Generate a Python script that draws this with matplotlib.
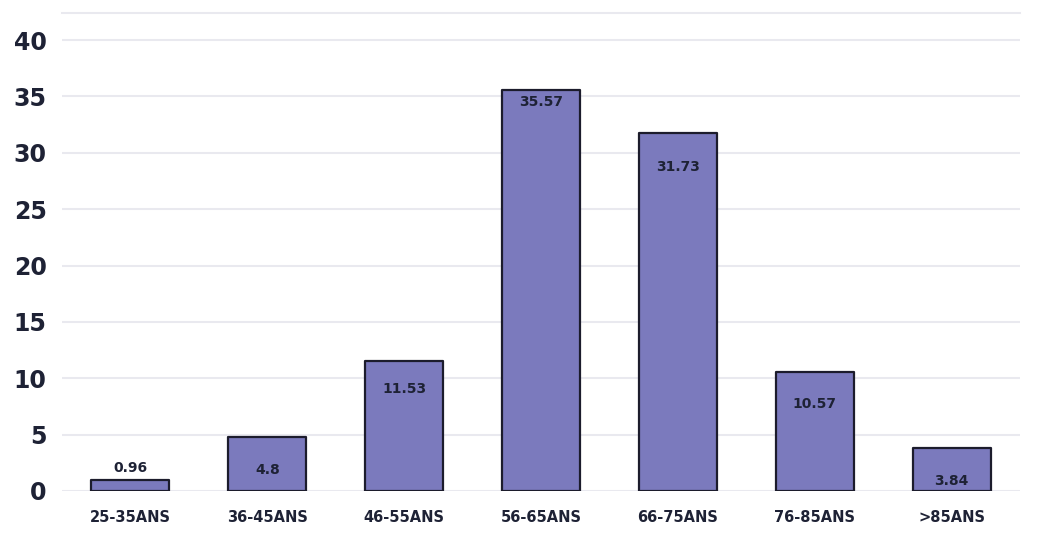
import matplotlib
matplotlib.use("Agg")
import matplotlib.pyplot as plt

plt.rcParams["font.family"] = ["DejaVu Sans"]

categories = ["25-35ANS", "36-45ANS", "46-55ANS", "56-65ANS", "66-75ANS", "76-85ANS", ">85ANS"]
values = [0.96, 4.8, 11.53, 35.57, 31.73, 10.57, 3.84]
y_ticks = [0, 5, 10, 15, 20, 25, 30, 35, 40]

# label vertical offsets in points (negative = inside bar below top)
label_offsets = [4, -29, -25, -14, -29, -28, -29]

bar_color = "#7b7abd"
edge_color = "#1c1c2c"
text_color = "#1e2235"
grid_color = "#e9e9ef"

fig = plt.figure(figsize=(10.37, 5.42), dpi=100)
ax = fig.add_axes([62/1037, 51/542, (1020-62)/1037, (491-13)/542])

x = list(range(len(categories)))
bars = ax.bar(x, values, width=0.57, color=bar_color, edgecolor=edge_color,
              linewidth=1.6, zorder=3)
for b in bars:
    b.set_joinstyle("round")

for xi, v, off in zip(x, values, label_offsets):
    ax.annotate(f"{v:g}", xy=(xi, v), xytext=(0, off), textcoords="offset points",
                ha="center", va="bottom", fontsize=10, fontweight="bold",
                color=text_color, zorder=4)

ax.set_xlim(-0.5, len(categories) - 0.5)
ax.set_ylim(0, 42.4)
ax.set_yticks(y_ticks)
ax.set_yticklabels([str(t) for t in y_ticks])
ax.set_xticks(x)
ax.set_xticklabels(categories)

ax.yaxis.grid(True, color=grid_color, linewidth=1.5, zorder=0)
ax.set_axisbelow(True)
for s in ["left", "right", "bottom"]:
    ax.spines[s].set_visible(False)
ax.spines["top"].set_color(grid_color)
ax.spines["top"].set_linewidth(1.5)

ax.tick_params(axis="y", length=0, pad=11, labelsize=17, labelcolor=text_color)
ax.tick_params(axis="x", length=0, pad=14, labelsize=10.5, labelcolor=text_color)
for lab in ax.get_yticklabels() + ax.get_xticklabels():
    lab.set_fontweight("bold")

fig.savefig("out.png", dpi=100, facecolor="white")
